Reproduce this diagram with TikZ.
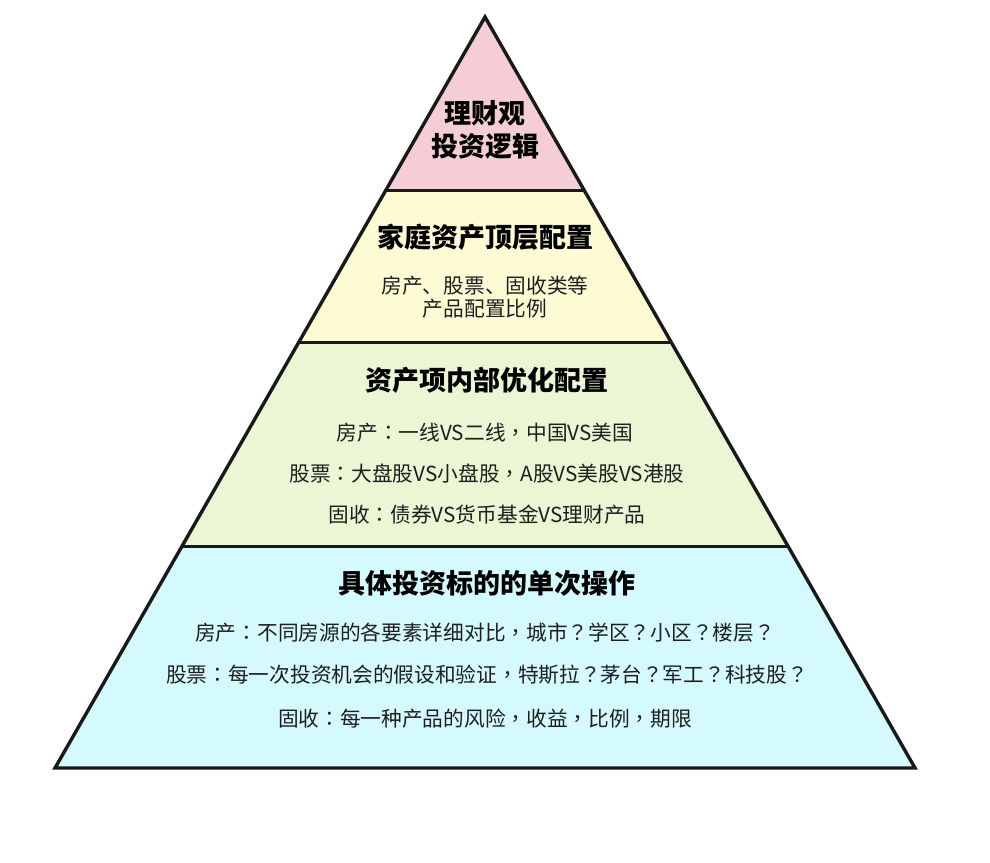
\documentclass[tikz,border=0pt]{standalone}
\usepackage{fontspec}
\newfontfamily\cjk{Noto Sans CJK SC}
\newfontfamily\cjktc{Noto Sans CJK TC}
\newcommand{\pct}[1]{{\cjktc #1}}
\usetikzlibrary{calc}
\definecolor{pinkfill}{RGB}{244,206,212}
\definecolor{yellowfill}{RGB}{253,251,212}
\definecolor{greenfill}{RGB}{235,247,212}
\definecolor{cyanfill}{RGB}{212,250,253}
\definecolor{txt}{RGB}{30,30,30}
\tikzset{
  titletext/.style={inner sep=0pt, align=center, text=black, font=\cjk\bfseries\fontsize{27}{33}\selectfont},
  bodytext/.style={inner sep=0pt, align=center, text=txt, font=\cjk\fontsize{20.7}{23}\selectfont},
  edge/.style={line width=3.4pt, line join=miter, draw=black!90},
  divider/.style={line width=3pt, draw=black!90}
}
\begin{document}
\begin{tikzpicture}[x=1pt,y=-1pt]
\useasboundingbox (0,0) rectangle (990,862);
\fill[white] (0,0) rectangle (990,862);
\coordinate (A) at (485,17);
\coordinate (BL) at (55,768);
\coordinate (BR) at (915,768);
\coordinate (L1) at ($(A)!0.2304!(BL)$);
\coordinate (R1) at ($(A)!0.2304!(BR)$);
\coordinate (L2) at ($(A)!0.4328!(BL)$);
\coordinate (R2) at ($(A)!0.4328!(BR)$);
\coordinate (L3) at ($(A)!0.7057!(BL)$);
\coordinate (R3) at ($(A)!0.7057!(BR)$);
% fills
\fill[pinkfill] (A) -- (R1) -- (L1) -- cycle;
\fill[yellowfill] (L1) -- (R1) -- (R2) -- (L2) -- cycle;
\fill[greenfill] (L2) -- (R2) -- (R3) -- (L3) -- cycle;
\fill[cyanfill] (L3) -- (R3) -- (BR) -- (BL) -- cycle;
% dividers
\draw[divider] (L1) -- (R1);
\draw[divider] (L2) -- (R2);
\draw[divider] (L3) -- (R3);
% outline
\draw[edge] (A) -- (BR) -- (BL) -- cycle;
% texts
\node[titletext] (t1) at (485,130) {理财观\\投资逻辑};
\node[titletext] (t2) at (485,237) {家庭资产顶层配置};
\node[bodytext] (s2) at (485,297) {房产、股票、固收类等\\产品配置比例};
\node[titletext] (t3) at (487,380) {资产项内部优化配置};
\node[bodytext] (s3a) at (485,433) {房产\pct{：}一线VS二线\pct{，}中国VS美国};
\node[bodytext] (s3b) at (487,474) {股票\pct{：}大盘股VS小盘股\pct{，}A股VS美股VS港股};
\node[bodytext] (s3c) at (487,515) {固收\pct{：}债券VS货币基金VS理财产品};
\node[titletext] (t4) at (487,583) {具体投资标的的单次操作};
\node[bodytext] (s4a) at (485,633) {房产\pct{：}不同房源的各要素详细对比\pct{，}城市\pct{？}学区\pct{？}小区\pct{？}楼层\pct{？}};
\node[bodytext] (s4b) at (487,675) {股票\pct{：}每一次投资机会的假设和验证\pct{，}特斯拉\pct{？}茅台\pct{？}军工\pct{？}科技股\pct{？}};
\node[bodytext] (s4c) at (485,719) {固收\pct{：}每一种产品的风险\pct{，}收益\pct{，}比例\pct{，}期限};
\end{tikzpicture}
\end{document}
